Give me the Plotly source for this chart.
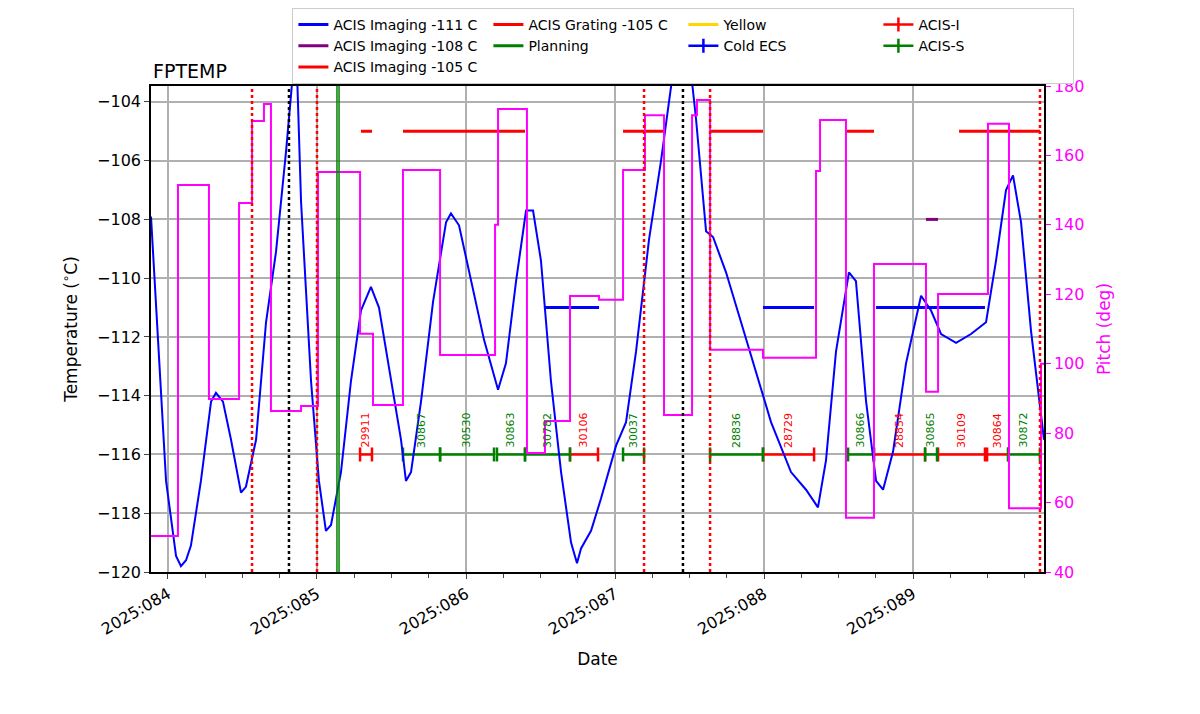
import plotly.graph_objects as go

# temperature (day of 2025, deg C)
temp_t = [83.886, 83.987, 84.054, 84.087, 84.121, 84.154, 84.221, 84.289, 84.322, 84.369,
          84.423, 84.490, 84.523, 84.591, 84.658, 84.725, 84.792, 84.839, 84.866, 84.893,
          84.960, 85.013, 85.060, 85.094, 85.161, 85.228, 85.295, 85.362, 85.416, 85.497,
          85.564, 85.597, 85.631, 85.698, 85.779, 85.866, 85.899, 85.953, 86.034, 86.121,
          86.215, 86.268, 86.336, 86.403, 86.450, 86.503, 86.570, 86.638, 86.705, 86.745,
          86.772, 86.839, 86.906, 87.007, 87.074, 87.141, 87.228, 87.309, 87.389, 87.510,
          87.544, 87.611, 87.658, 87.745, 87.846, 87.946, 88.047, 88.181, 88.282, 88.362,
          88.416, 88.483, 88.570, 88.617, 88.685, 88.752, 88.799, 88.866, 88.953, 89.054,
          89.121, 89.188, 89.289, 89.389, 89.490, 89.557, 89.624, 89.671, 89.725, 89.792, 89.879]
temp_v = [-107.9, -116.9, -119.45, -119.8, -119.6, -119.1, -116.9, -114.2, -113.9, -114.2,
          -115.5, -117.3, -117.1, -115.5, -111.5, -109.1, -105.7, -103.0, -103.0, -107.4,
          -113.5, -116.9, -118.6, -118.4, -116.6, -113.5, -111.1, -110.3, -111.0, -113.5,
          -115.5, -116.9, -116.6, -114.2, -110.8, -108.1, -107.8, -108.2, -110.1, -112.1,
          -113.8, -112.9, -110.1, -107.7, -107.7, -109.4, -113.5, -116.6, -119.0, -119.7,
          -119.2, -118.6, -117.5, -115.7, -114.9, -112.5, -108.7, -106.0, -103.0, -103.0,
          -104.6, -108.4, -108.6, -109.8, -111.5, -113.2, -114.9, -116.6, -117.2, -117.8,
          -116.2, -112.5, -109.8, -110.1, -114.2, -116.9, -117.2, -115.9, -112.9, -110.6,
          -111.1, -111.9, -112.2, -111.9, -111.5, -109.4, -107.0, -106.5, -108.1, -111.8, -115.5]

# pitch steps (start day, deg)
pitch_t = [83.886, 84.067, 84.275, 84.477, 84.564, 84.644, 84.691, 84.893, 85.007, 85.289,
           85.376, 85.577, 85.826, 86.195, 86.215, 86.409, 86.530, 86.698, 86.893, 87.054,
           87.201, 87.329, 87.517, 87.550, 87.638, 87.993, 88.349, 88.376, 88.550, 88.738,
           89.087, 89.168, 89.503, 89.644, 89.859, 89.879]
pitch_v = [50.4, 151.5, 89.8, 146.3, 169.9, 174.8, 86.4, 87.8, 155.2, 108.6,
           88.1, 155.8, 102.5, 140.0, 173.4, 74.3, 83.5, 119.5, 118.4, 155.8,
           171.6, 85.2, 171.6, 176.0, 104.0, 101.7, 155.5, 170.2, 55.6, 128.7,
           91.9, 120.1, 169.1, 58.4, 100.0, 100.0]

# limit segments
lim105_t = [(85.295, 85.369), (85.577, 86.396), (87.054, 87.329), (87.638, 87.993),
            (88.544, 88.738), (89.309, 89.852)]
lim111_t = [(86.523, 86.893), (87.993, 88.336), (88.752, 89.483)]
lim108_t = [(89.087, 89.168)]

# observations
obs_ids = ["29911", "30867", "30530", "30863", "30782", "30106", "30037", "28836",
           "28729", "30866", "28854", "30865", "30109", "30864", "30872"]
obs_start = [85.289, 85.577, 85.826, 86.208, 86.396, 86.698, 87.054, 87.638,
             87.993, 88.564, 88.738, 89.081, 89.168, 89.497, 89.638]
obs_stop = [85.369, 85.826, 86.188, 86.396, 86.698, 86.886, 87.195, 87.993,
            88.336, 88.738, 89.081, 89.161, 89.483, 89.638, 89.852]
obs_inst = ["I", "S", "S", "S", "S", "I", "S", "S", "I", "S", "I", "S", "I", "I", "S"]

red_vlines = [84.564, 85.0, 87.195, 87.638, 89.852]
black_vlines = [84.812, 87.456]
green_vlines = [85.134, 85.148]

day_ticks = [84, 85, 86, 87, 88, 89]
day_labels = ["2025:084", "2025:085", "2025:086", "2025:087", "2025:088", "2025:089"]


def segs(pairs, y):
    xs, ys = [], []
    for a, b in pairs:
        xs += [a, b, None]
        ys += [y, y, None]
    return xs, ys


def obs_segs(inst):
    xs, ys = [], []
    for a, b, i in zip(obs_start, obs_stop, obs_inst):
        if i == inst:
            xs += [a, b, None]
            ys += [-116, -116, None]
    return xs, ys


def capped(col):
    return dict(line=dict(color=col, width=2.5),
                marker=dict(symbol="line-ns", size=10, line=dict(color=col, width=2.5)))


fig = go.Figure()

for d in red_vlines:
    fig.add_vline(x=d, line=dict(color="red", dash="dot", width=2.5))
for d in black_vlines:
    fig.add_vline(x=d, line=dict(color="black", dash="dot", width=2.5))
for d in green_vlines:
    fig.add_vline(x=d, line=dict(color="green", width=1.5))

# legend order: row-wise to mimic the 4-column matplotlib legend
x, y = segs(lim111_t, -111)
fig.add_trace(go.Scatter(x=x, y=y, mode="lines", name="ACIS Imaging -111 C", line=dict(color="blue", width=3)))
fig.add_trace(go.Scatter(x=[None], y=[None], mode="lines", name="ACIS Grating -105 C", line=dict(color="red", width=3)))
fig.add_trace(go.Scatter(x=[None], y=[None], mode="lines", name="Yellow", line=dict(color="gold", width=3)))
x, y = obs_segs("I")
fig.add_trace(go.Scatter(x=x, y=y, mode="lines+markers", name="ACIS-I", **capped("red")))
x, y = segs(lim108_t, -108)
fig.add_trace(go.Scatter(x=x, y=y, mode="lines", name="ACIS Imaging -108 C", line=dict(color="purple", width=3)))
fig.add_trace(go.Scatter(x=[None], y=[None], mode="lines", name="Planning", line=dict(color="green", width=3)))
fig.add_trace(go.Scatter(x=[None], y=[None], mode="lines+markers", name="Cold ECS", **capped("blue")))
x, y = obs_segs("S")
fig.add_trace(go.Scatter(x=x, y=y, mode="lines+markers", name="ACIS-S", **capped("green")))
x, y = segs(lim105_t, -105)
fig.add_trace(go.Scatter(x=x, y=y, mode="lines", name="ACIS Imaging -105 C", line=dict(color="red", width=3)))

fig.add_trace(go.Scatter(x=temp_t, y=temp_v, mode="lines", line=dict(color="blue", width=2), showlegend=False))
fig.add_trace(go.Scatter(x=pitch_t, y=pitch_v, mode="lines", line=dict(color="magenta", width=2, shape="hv"),
                         yaxis="y2", showlegend=False))

for oid, a, b, i in zip(obs_ids, obs_start, obs_stop, obs_inst):
    fig.add_annotation(x=(a + b) / 2, y=-115.85, text=oid, textangle=-90, showarrow=False,
                       yanchor="bottom", font=dict(size=11, color="red" if i == "I" else "green"))

fig.add_annotation(x=0, y=1.0, xref="paper", yref="paper", text="FPTEMP", showarrow=False,
                   xanchor="left", yanchor="bottom", yshift=2, font=dict(size=19, color="black"))

fig.update_layout(
    width=1200, height=714,
    margin=dict(l=143, r=164, t=78, b=150, autoexpand=False),
    plot_bgcolor="white", paper_bgcolor="white",
    font=dict(family="DejaVu Sans", size=16, color="black"),
    legend=dict(orientation="h", x=0.237, xref="container", xanchor="left", y=1.0, yanchor="top",
                yref="container", entrywidth=150, bordercolor="#cccccc", borderwidth=1,
                font=dict(size=14), tracegroupgap=0),
    xaxis=dict(range=[83.886, 89.879], tickvals=day_ticks, ticktext=day_labels, tickangle=-30,
               showgrid=True, gridcolor="#b0b0b0", gridwidth=1.5, showline=True, linecolor="black",
               linewidth=1.5, mirror=True, ticks="outside", zeroline=False,
               minor=dict(dtick=0.25, ticks="outside", ticklen=4, showgrid=False),
               title=dict(text="Date", font=dict(size=17))),
    yaxis=dict(range=[-120, -103.46], dtick=2, showgrid=True, gridcolor="#b0b0b0", gridwidth=1.5,
               showline=True, linecolor="black", linewidth=1.5, ticks="outside", zeroline=False,
               tickformat="d", title=dict(text="Temperature (<sup>∘</sup>C)", font=dict(size=17))),
    yaxis2=dict(range=[40, 180], dtick=20, overlaying="y", side="right", showgrid=False,
                showline=True, linecolor="black", linewidth=1.5, ticks="outside", zeroline=False,
                tickcolor="magenta", tickfont=dict(color="magenta"),
                title=dict(text="Pitch (deg)", font=dict(size=17, color="magenta"))),
)

fig.write_html("out.html")
